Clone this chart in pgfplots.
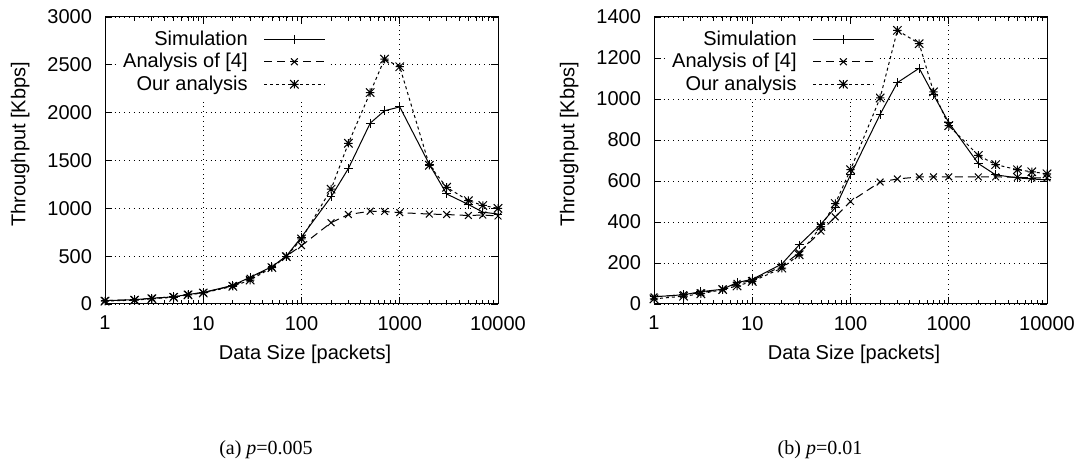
\documentclass[border=0pt]{standalone}
\usepackage{fontspec}
\setmainfont{Liberation Sans}
\newfontfamily\capfont{Liberation Serif}
\usepackage{pgfplots}
\pgfplotsset{compat=1.18}

% gnuplot-like star: plus and cross together
\pgfdeclareplotmark{gpstar}{%
  \pgfpathmoveto{\pgfqpoint{-\pgfplotmarksize}{0pt}}\pgfpathlineto{\pgfqpoint{\pgfplotmarksize}{0pt}}%
  \pgfpathmoveto{\pgfqpoint{0pt}{-\pgfplotmarksize}}\pgfpathlineto{\pgfqpoint{0pt}{\pgfplotmarksize}}%
  \pgfpathmoveto{\pgfqpoint{-\pgfplotmarksize}{-\pgfplotmarksize}}\pgfpathlineto{\pgfqpoint{\pgfplotmarksize}{\pgfplotmarksize}}%
  \pgfpathmoveto{\pgfqpoint{-\pgfplotmarksize}{\pgfplotmarksize}}\pgfpathlineto{\pgfqpoint{\pgfplotmarksize}{-\pgfplotmarksize}}%
  \pgfusepathqstroke}

\pgfplotsset{
  scale only axis,
  width=196.5pt, height=143.5pt,
  xmin=1, xmax=10000,
  xtick={1,10,100,1000,10000},
  xticklabels={1,10,100,1000,10000},
  ymin=0,
  tick align=inside,
  major tick length=3.5pt,
  minor tick length=2pt,
  tick style={black, line width=0.4pt},
  grid=major,
  major grid style={black, dotted, line width=0.4pt},
  axis line style={line width=0.5pt},
  tick label style={font=\normalsize},
  xticklabel style={yshift=-2.5pt},
  yticklabel style={xshift=-3pt},
  label style={font=\normalsize},
  every axis y label/.style={at={(axis description cs:-0.216,0.557)}, rotate=90, anchor=center},
  every axis x label/.style={at={(axis description cs:0.509,-0.174)}, anchor=center},
  legend plot pos=right,
  legend cell align=right,
  legend style={at={(axis description cs:0.03,0.975)}, anchor=north west,
    draw=none, fill=white, inner sep=1pt, row sep=-1.5pt, column sep=6pt,
    font=\normalsize},
  legend image code/.code={%
    \draw[mark repeat=2,mark phase=2,#1] plot coordinates {(0cm,0cm) (0.53cm,0cm) (1.06cm,0cm)};},
  sim/.style={black, line width=0.5pt, solid, mark=+, mark size=2.2pt, mark options={solid}},
  ana/.style={black, line width=0.5pt, dash pattern=on 4pt off 2.5pt, mark=x, mark size=2.4pt, mark options={solid}},
  our/.style={black, line width=0.5pt, dash pattern=on 1.5pt off 1.5pt, mark=gpstar, mark size=2.1pt, mark options={solid}},
}

\begin{document}
\begin{tikzpicture}
\useasboundingbox (0,0) rectangle (542.5pt,234.5pt);

% (a) p = 0.005
\begin{axis}[at={(52.5pt,82.5pt)}, anchor=south west,
  xmode=log, clip=false,
  ymax=3000, ytick={0,500,1000,1500,2000,2500,3000},
  xlabel={Data Size [packets]}, ylabel={Throughput [Kbps]},
  /pgf/number format/1000 sep={},
  /pgf/number format/assume math mode=true]
\addplot[sim] coordinates {
 (1,35) (2,45) (3,60) (5,75) (7,100) (10,120) (20,195) (30,280) (50,390) (70,500)
 (100,700) (200,1120) (300,1416) (500,1890) (700,2020) (1000,2060) (2000,1460)
 (3000,1150) (5000,1040) (7000,960) (10000,940)};
\addplot[ana] coordinates {
 (1,35) (2,45) (3,60) (5,75) (7,100) (10,120) (20,190) (30,270) (50,385) (70,500)
 (100,610) (200,850) (300,935) (500,970) (700,967) (1000,955) (2000,940)
 (3000,935) (5000,925) (7000,930) (10000,920)};
\addplot[our] coordinates {
 (1,30) (2,40) (3,55) (5,70) (7,95) (10,115) (20,185) (30,250) (50,380) (70,495)
 (100,680) (200,1200) (300,1680) (500,2210) (700,2560) (1000,2480) (2000,1450)
 (3000,1220) (5000,1080) (7000,1030) (10000,1000)};
\legend{Simulation, Analysis of [4], Our analysis}
\end{axis}

% (b) p = 0.01
\begin{axis}[at={(327pt,82.5pt)}, anchor=south west,
  xmode=log, clip=false,
  ymax=1400, ytick={0,200,400,600,800,1000,1200,1400},
  xlabel={Data Size [packets]}, ylabel={Throughput [Kbps]},
  /pgf/number format/1000 sep={},
  /pgf/number format/assume math mode=true]
\addplot[sim] coordinates {
 (1,35) (2,45) (3,60) (5,72) (7,105) (10,120) (20,195) (30,288) (50,390) (70,470)
 (100,630) (200,925) (300,1080) (500,1150) (700,1020) (1000,885) (2000,685)
 (3000,630) (5000,615) (7000,610) (10000,605)};
\addplot[ana] coordinates {
 (1,35) (2,45) (3,55) (5,72) (7,100) (10,115) (20,185) (30,250) (50,355) (70,425)
 (100,500) (200,595) (300,610) (500,620) (700,620) (1000,620) (2000,620)
 (3000,620) (5000,618) (7000,615) (10000,615)};
\addplot[our] coordinates {
 (1,25) (2,38) (3,50) (5,70) (7,88) (10,110) (20,175) (30,240) (50,378) (70,490)
 (100,655) (200,1005) (300,1335) (500,1270) (700,1035) (1000,870) (2000,725)
 (3000,680) (5000,655) (7000,645) (10000,635)};
\legend{Simulation, Analysis of [4], Our analysis}
\end{axis}

\node[font=\capfont\fontsize{10pt}{12pt}\selectfont] at (133pt,9.5pt) {(a) \textit{p}=0.005};
\node[font=\capfont\fontsize{10pt}{12pt}\selectfont] at (410pt,9.5pt) {(b) \textit{p}=0.01};
\end{tikzpicture}
\end{document}
